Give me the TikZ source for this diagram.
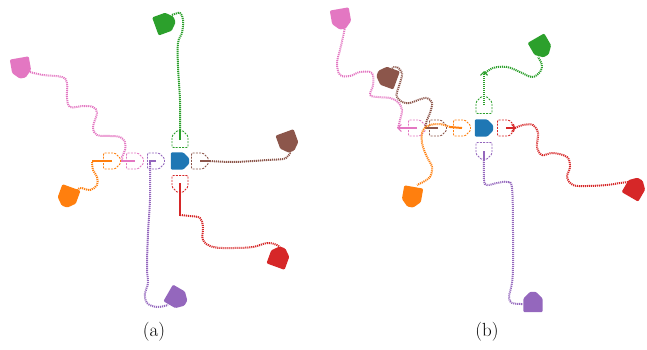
\documentclass[tikz,border=0pt]{standalone}
\usetikzlibrary{arrows.meta}
\definecolor{tblue}{HTML}{1F77B4}
\definecolor{torange}{HTML}{FF7F0E}
\definecolor{tgreen}{HTML}{2CA02C}
\definecolor{tred}{HTML}{D62728}
\definecolor{tpurple}{HTML}{9467BD}
\definecolor{tbrown}{HTML}{8C564B}
\definecolor{tpink}{HTML}{E377C2}
\tikzset{
  ghostline/.style={line width=0.9pt, dash pattern=on 2pt off 1.2pt},
  traj/.style={line width=2pt, dash pattern=on 1.1pt off 0.9pt},
  headseg/.style={line width=2pt},
  tip/.style={-{Straight Barb[length=3.5pt,width=7pt,line width=1.2pt]}},
  caption/.style={font=\fontsize{19}{22}\selectfont, inner sep=0pt}
}
\newcommand{\gst}[4]{\draw[ghostline,#4,shift={(#1,#2)},rotate=#3,rounded corners=1.2pt] (-8.5,-8) -- (3,-8) -- (8.5,-2.5) -- (8.5,2.5) -- (3,8) -- (-8.5,8) -- cycle;}
\newcommand{\rbt}[5]{\fill[#4,shift={(#1,#2)},rotate=#3,scale=#5,rounded corners=1.2pt] (-8.5,-8) -- (3,-8) -- (8.5,-2.5) -- (8.5,2.5) -- (3,8) -- (-8.5,8) -- cycle;}
\begin{document}
\begin{tikzpicture}[x=1pt,y=-1pt]
\useasboundingbox (0,0) rectangle (647,349);
% ================= (a) =================
% green
\draw[traj,tgreen] plot[smooth,tension=0.6] coordinates {(180,132) (180,100) (178,67) (178,43) (182,33) (183,20) (180,13) (172,15)};
\draw[headseg,tgreen] (180,140) -- (180,132);
\gst{180}{139}{90}{tgreen}
\rbt{165}{23}{20}{tgreen}{1.2}
% pink
\draw[traj,tpink] plot[smooth,tension=0.6] coordinates {(30,72) (43,75) (62,77) (67,83) (67,97) (70,107) (83,106) (93,107) (97,113) (93,127) (97,135) (110,136) (120,137) (125,142) (125,150) (122,157) (123,160)};
\draw[headseg,tpink] (121,161) -- (135,161);
\gst{135}{161}{0}{tpink}
\rbt{21}{68}{-80}{tpink}{1.2}
% orange
\draw[traj,torange] plot[smooth,tension=0.6] coordinates {(92,162) (93,170) (97,177) (97,185) (90,190) (80,188) (75,193)};
\draw[headseg,torange] (112,161) -- (92,161);
\gst{112}{161}{0}{torange}
\rbt{68}{197}{-110}{torange}{1.2}
% purple
\draw[traj,tpurple] plot[smooth,tension=0.6] coordinates {(150,164) (150,200) (148,233) (147,267) (148,283) (145,293) (147,303) (157,307) (168,305)};
\draw[headseg,tpurple] (156,161) -- (150,161) -- (150,164);
\gst{156}{161}{0}{tpurple}
\rbt{177}{298}{-30}{tpurple}{1.2}
% brown
\draw[traj,tbrown] plot[smooth,tension=0.6] coordinates {(210,161) (233,162) (253,161) (267,160) (283,159) (287,157) (290,153) (288,150)};
\draw[headseg,tbrown] (200,161) -- (210,161);
\gst{200}{161}{0}{tbrown}
\rbt{288}{142}{-70}{tbrown}{1.2}
% red
\draw[traj,tred] plot[smooth,tension=0.6] coordinates {(180,215) (190,216) (200,218) (203,227) (203,240) (213,247) (233,248) (253,247) (267,243) (277,245) (282,250)};
\draw[headseg,tred] (180,183) -- (180,216);
\gst{180}{184}{-90}{tred}
\rbt{279}{257}{70}{tred}{1.2}
% blue robot
\rbt{180}{161}{0}{tblue}{1.08}
\node[caption] (capa) at (154,332) {(a)};
% ================= (b) =================
% green
\draw[traj,tgreen] plot[smooth,tension=0.6] coordinates {(484,74) (493,68) (507,67) (520,72) (532,77) (540,72) (542,65) (538,57)};
\draw[traj,tgreen,tip] (484,105) -- (484,71);
\gst{484}{105}{90}{tgreen}
\rbt{541}{47}{-60}{tgreen}{1.2}
% pink
\draw[traj,tpink] plot[smooth,tension=0.6] coordinates {(398,128) (400,120) (402,110) (398,102) (390,98) (378,97) (370,95) (373,85) (372,73) (360,72) (350,76) (340,75) (337,63) (340,50) (343,37) (345,27)};
\draw[headseg,tpink,tip] (417,128) -- (397,128);
\gst{417}{128}{0}{tpink}
\rbt{341}{19}{-80}{tpink}{1.2}
% brown
\draw[traj,tbrown] plot[smooth,tension=0.6] coordinates {(425,128) (427,120) (430,113) (432,103) (427,98) (418,100) (410,103) (402,102) (397,97) (397,92) (400,83) (402,73) (397,67) (392,68)};
\draw[headseg,tbrown] (438,128) -- (425,128);
\gst{438}{128}{0}{tbrown}
\rbt{387}{77}{160}{tbrown}{1.2}
% orange
\draw[traj,torange] plot[smooth,tension=0.6] coordinates {(450,127) (440,124) (430,125) (423,130) (422,143) (427,157) (432,167) (430,177) (423,182) (417,185)};
\draw[headseg,torange] (462,128) -- (450,127);
\gst{462}{128}{0}{torange}
\rbt{412}{197}{-100}{torange}{1.2}
% purple
\draw[traj,tpurple] plot[smooth,tension=0.6] coordinates {(484,158) (484,180) (487,185) (497,183) (507,182) (512,188) (513,233) (513,267) (512,283) (509,297) (512,303) (523,304)};
\draw[headseg,tpurple] (484,151) -- (484,158);
\gst{484}{151}{-90}{tpurple}
\rbt{533}{302}{90}{tpurple}{1.2}
% red
\draw[traj,tred] plot[smooth,tension=0.6] coordinates {(515,128) (523,125) (533,125) (538,133) (537,147) (542,155) (553,153) (567,157) (570,167) (567,177) (573,185) (587,186) (607,185) (620,183) (630,182)};
\draw[headseg,tred,tip] (506,128) -- (516,128);
\gst{506}{128}{0}{tred}
\rbt{635}{188}{60}{tred}{1.2}
% blue robot
\rbt{484}{128}{0}{tblue}{1.08}
\node[caption] (capb) at (487,332) {(b)};
\end{tikzpicture}
\end{document}
